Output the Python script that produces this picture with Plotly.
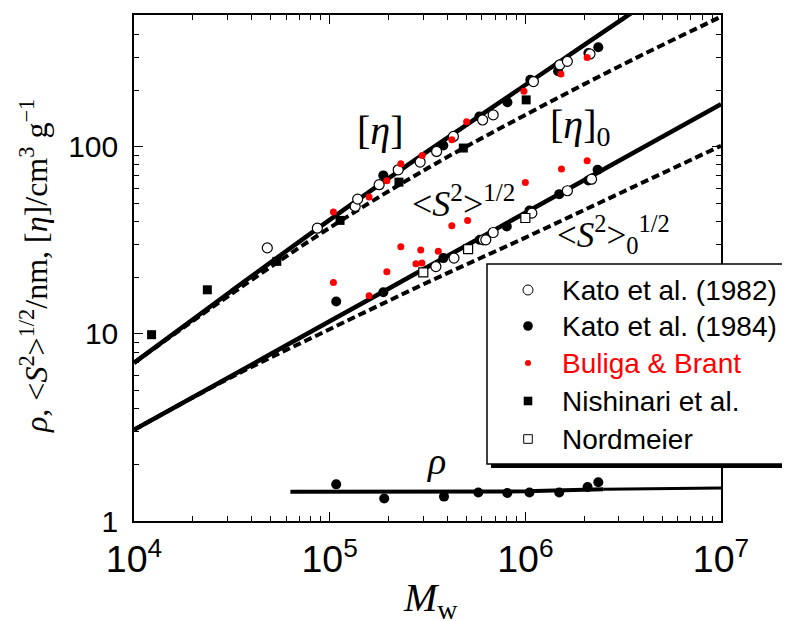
import plotly.graph_objects as go

# ---------------- data ----------------
# Kato et al. (1982)  - open circles
kato82_eta_M = [4.80e4, 8.65e4, 1.35e5, 1.39e5, 1.79e5, 2.24e5, 2.90e5, 3.52e5, 4.29e5,
                6.05e5, 6.85e5, 1.10e6, 1.50e6, 1.64e6, 2.14e6]
kato82_eta = [28.8, 36.7, 48.0, 52.5, 62.7, 75.3, 82.8, 94.4, 113.5, 139, 148, 223, 274, 286, 313]
kato82_S_M = [3.49e5, 4.32e5, 6.10e5, 6.28e5, 6.85e5, 1.08e6, 1.64e6, 2.18e6]
kato82_S = [22.9, 25.4, 31.8, 31.8, 34.8, 44.2, 58.2, 67.1]

# Kato et al. (1984)  - filled circles
kato84_eta_M = [1.88e5, 3.81e5, 5.82e5, 8.10e5, 1.06e6, 1.47e6, 2.10e6, 2.36e6]
kato84_eta = [70.3, 101.6, 145, 173, 228, 253, 317, 340]
kato84_S_M = [1.08e5, 1.88e5, 3.81e5, 5.85e5, 8.04e5, 1.05e6, 1.49e6, 2.10e6, 2.34e6]
kato84_S = [14.9, 16.7, 25.4, 31.8, 37.5, 45.6, 55.8, 66.1, 75.3]
kato84_rho_M = [1.08e5, 1.90e5, 3.84e5, 5.75e5, 8.09e5, 1.05e6, 1.49e6, 2.08e6, 2.36e6]
kato84_rho = [1.57, 1.32, 1.35, 1.42, 1.41, 1.42, 1.42, 1.52, 1.61]

# Buliga & Brant - small red dots
buliga_eta_M = [1.045e5, 1.59e5, 1.96e5, 2.31e5, 2.97e5, 4.21e5, 5.01e5, 9.84e5, 1.52e6, 2.07e6]
buliga_eta = [44.8, 53.8, 65.8, 81, 89.8, 109, 136, 198, 245, 300]
buliga_S_M = [1.045e5, 1.59e5, 1.96e5, 2.31e5, 2.76e5, 2.96e5, 2.92e5, 3.59e5, 4.21e5,
              5.07e5, 1.0e6, 1.53e6, 2.07e6]
buliga_S = [18.8, 16.0, 21.5, 29.2, 23.7, 23.9, 28.1, 27.6, 37.8, 40.4, 64.4, 76, 84.1]

# Nishinari et al. - filled squares
nishinari_M = [1.23e4, 2.37e4, 5.37e4, 1.13e5, 2.26e5, 4.82e5, 1.01e6]
nishinari_eta = [9.9, 17.2, 24.4, 40.4, 64.7, 98.4, 178]

# Nordmeier - open squares
nordmeier_M = [3.01e5, 5.10e5, 1.0e6]
nordmeier_S = [21.3, 28.4, 41.6]

# theoretical curves
line_M = [1e4, 3.16e4, 1e5, 3.16e5, 1e6, 3.16e6, 1e7]
eta_line = [7.0, 17.0, 40.7, 94.4, 213.8, 484, 1096]
eta0_line = [7.0, 16.4, 36.9, 76.7, 147.9, 275.4, 495.5]
S_line = [3.07, 5.98, 11.67, 22.75, 44.4, 86.5, 169]
S0_line = [3.07, 5.89, 10.59, 18.84, 32.7, 57.5, 101.2]
rho_line_M = [6.3e4, 1e6, 2.5e6, 1e7]
rho_line = [1.435, 1.44, 1.48, 1.50]

legend_labels = ["Kato et al. (1982)", "Kato et al. (1984)", "Buliga &amp; Brant",
                 "Nishinari et al.", "Nordmeier"]

# ---------------- figure ----------------
W, H = 790, 621
OFF = 8  # page body margin
L, R, T, B = 134 - OFF, 69 + OFF, 15 - OFF, 100 + OFF
PL, PT, PW, PH = 134, 15, 587, 506   # plot area in screenshot pixels


def px(x):
    return (x - PL) / PW


def py(y):
    return (PT + PH - y) / PH


SERIF = "Liberation Serif, Times New Roman, serif"
SANS = "Liberation Sans, Arial, sans-serif"

fig = go.Figure()

solid = dict(color="black", width=4.5, shape="spline")
dashed = dict(color="black", width=4, dash="8px,4px", shape="spline")

fig.add_trace(go.Scatter(x=line_M, y=eta_line, mode="lines", line=solid))
fig.add_trace(go.Scatter(x=line_M, y=eta0_line, mode="lines", line=dashed))
fig.add_trace(go.Scatter(x=line_M, y=S_line, mode="lines", line=solid))
fig.add_trace(go.Scatter(x=line_M, y=S0_line, mode="lines", line=dashed))
fig.add_trace(go.Scatter(x=rho_line_M[:3], y=rho_line[:3], mode="lines",
                         line=dict(color="black", width=4)))
fig.add_trace(go.Scatter(x=rho_line_M[2:], y=rho_line[2:], mode="lines",
                         line=dict(color="black", width=3)))

filled_c = dict(symbol="circle", size=10, color="black", line=dict(width=0))
open_c = dict(symbol="circle", size=10, color="white", line=dict(color="black", width=1.2))
red_c = dict(symbol="circle", size=7, color="#ff0000", line=dict(width=0))
filled_s = dict(symbol="square", size=9, color="black", line=dict(width=0))
open_s = dict(symbol="square", size=9, color="white", line=dict(color="black", width=1.2))

fig.add_trace(go.Scatter(x=kato84_eta_M, y=kato84_eta, mode="markers", marker=filled_c))
fig.add_trace(go.Scatter(x=kato84_S_M, y=kato84_S, mode="markers", marker=filled_c))
fig.add_trace(go.Scatter(x=kato84_rho_M, y=kato84_rho, mode="markers", marker=filled_c))
fig.add_trace(go.Scatter(x=kato82_eta_M, y=kato82_eta, mode="markers", marker=open_c))
fig.add_trace(go.Scatter(x=kato82_S_M, y=kato82_S, mode="markers", marker=open_c))
fig.add_trace(go.Scatter(x=nishinari_M, y=nishinari_eta, mode="markers", marker=filled_s))
fig.add_trace(go.Scatter(x=nordmeier_M, y=nordmeier_S, mode="markers", marker=open_s))
fig.add_trace(go.Scatter(x=buliga_eta_M, y=buliga_eta, mode="markers", marker=red_c))
fig.add_trace(go.Scatter(x=buliga_S_M, y=buliga_S, mode="markers", marker=red_c))

axis_common = dict(
    type="log", showgrid=False, zeroline=False, showline=True, linecolor="black",
    linewidth=1.5, mirror="allticks", ticks="inside", ticklen=9, tickwidth=1.3,
    tickcolor="black", dtick=1,
    minor=dict(ticks="inside", ticklen=5, tickwidth=1, tickcolor="black", dtick="D1",
               showgrid=False),
    tickfont=dict(family=SANS, size=30, color="black"),
)

fig.update_layout(
    width=W, height=H, margin=dict(l=L, r=R, t=T, b=B, autoexpand=False),
    plot_bgcolor="white", paper_bgcolor="white", showlegend=False,
    xaxis=dict(range=[4, 7], exponentformat="power", ticklabelstandoff=6, **axis_common),
    yaxis=dict(range=[0, 2.704], ticklabelstandoff=8, **axis_common),
)

# ---------------- legend box (manual) ----------------
shapes = [
    dict(type="rect", xref="paper", yref="paper", x0=px(491), x1=px(805), y0=py(468),
         y1=py(268), fillcolor="black", line=dict(width=0), layer="above"),
    dict(type="rect", xref="paper", yref="paper", x0=px(487), x1=px(800), y0=py(464),
         y1=py(264), fillcolor="white", line=dict(color="black", width=1.5), layer="above"),
]
rows = [290, 326, 363, 401, 439]
mk_x = px(528)


def circ(yrow, r, fill, lw):
    return dict(type="circle", xref="paper", yref="paper", xsizemode="pixel",
                ysizemode="pixel", xanchor=mk_x, yanchor=py(yrow), x0=-r, x1=r,
                y0=-r, y1=r, fillcolor=fill, line=dict(color="black", width=lw),
                layer="above")


def sq(yrow, r, fill, lw):
    d = circ(yrow, r, fill, lw)
    d["type"] = "rect"
    return d


shapes.append(circ(rows[0], 5, "white", 1))
shapes.append(circ(rows[1], 4.8, "black", 0))
red = circ(rows[2], 3, "#ff0000", 0)
red["line"] = dict(width=0)
shapes.append(red)
shapes.append(sq(rows[3], 4.3, "black", 0))
shapes.append(sq(rows[4], 4.3, "white", 1))

annotations = []
for yrow, lab in zip(rows, legend_labels):
    annotations.append(dict(
        xref="paper", yref="paper", x=px(560), y=py(yrow), xanchor="left",
        yanchor="middle", text=lab, showarrow=False,
        font=dict(family=SANS, size=28, color="#ff0000" if "Buliga" in lab else "black")))

# curve labels
annotations += [
    dict(xref="paper", yref="paper", x=px(380), y=py(106), text="[<i>η</i>]",
         showarrow=False, font=dict(family=SERIF, size=40, color="black")),
    dict(xref="paper", yref="paper", x=px(548), y=py(100), xanchor="left",
         text="[<i>η</i>]<sub>0</sub>",
         showarrow=False, font=dict(family=SERIF, size=40, color="black")),
    dict(xref="paper", yref="paper", x=px(410), y=py(201), xanchor="left",
         text="&lt;<i>S</i><sup>2</sup>&gt;<sup>1/2</sup>",
         showarrow=False, font=dict(family=SERIF, size=36, color="black")),
    dict(xref="paper", yref="paper", x=px(555), y=py(234), xanchor="left",
         text="&lt;<i>S</i><sup>2</sup>&gt;<sub>0</sub><sup>1/2</sup>",
         showarrow=False, font=dict(family=SERIF, size=35, color="black")),
    dict(xref="paper", yref="paper", x=px(436), y=py(484), text="<i>ρ</i>",
         showarrow=False, font=dict(family=SERIF, size=38, color="black")),
    dict(xref="paper", yref="paper", x=px(401), y=py(627), xanchor="left",
         text="<i>M</i><sub>w</sub>",
         showarrow=False, font=dict(family=SERIF, size=40, color="black")),
    dict(xref="paper", yref="paper", x=px(12), y=py(266), textangle=-90,
         text="<i>ρ</i>, &lt;<i>S</i><sup>2</sup>&gt;<sup>1/2</sup>/nm, [<i>η</i>]/cm<sup>3</sup> g<sup>−1</sup>",
         showarrow=False, font=dict(family=SERIF, size=32, color="black")),
]

fig.update_layout(shapes=shapes, annotations=annotations)
fig.write_html("out.html")
